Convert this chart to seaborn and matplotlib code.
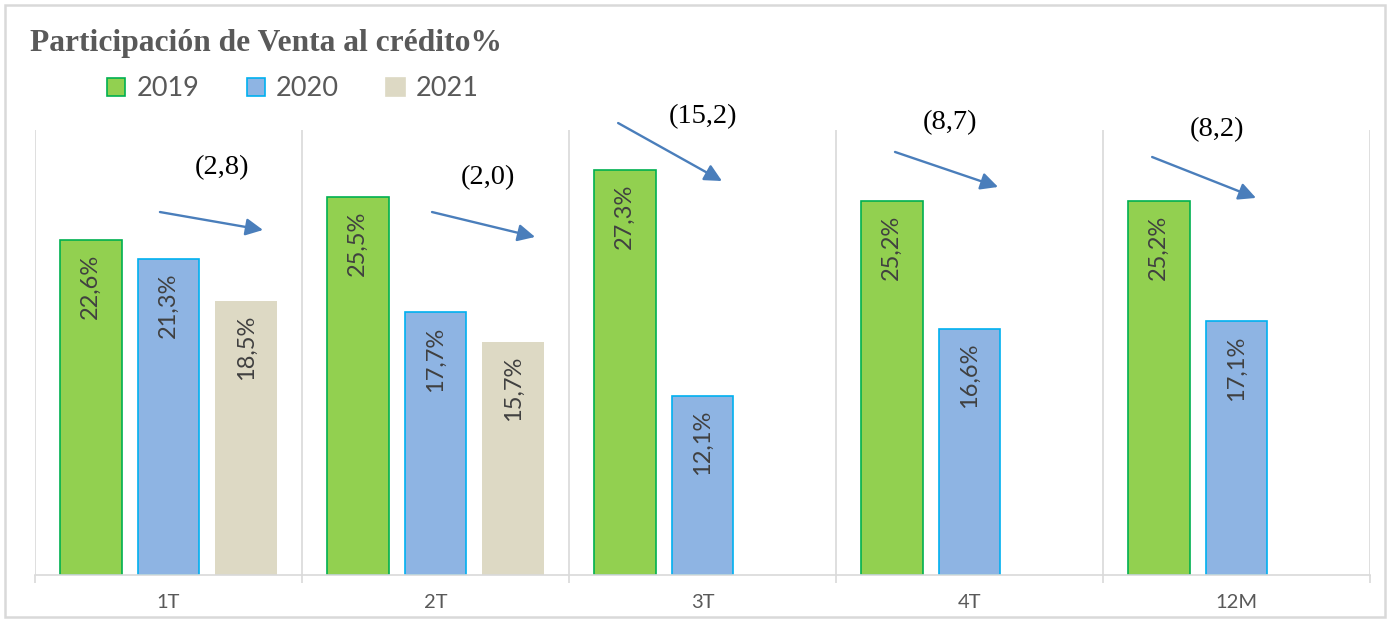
import numpy as np
import pandas as pd
import matplotlib
matplotlib.use("Agg")
import matplotlib.pyplot as plt
from matplotlib.patches import Patch, Rectangle
import seaborn as sns

# ---------------- data ----------------
periods = ["1T", "2T", "3T", "4T", "12M"]
years = ["2019", "2020", "2021"]
values_2019 = [22.6, 25.5, 27.3, 25.2, 25.2]
values_2020 = [21.3, 17.7, 12.1, 16.6, 17.1]
values_2021 = [18.5, 15.7, np.nan, np.nan, np.nan]
change_labels = ["(2,8)", "(2,0)", "(15,2)", "(8,7)", "(8,2)"]
title_text = "Participación de Venta al crédito%"

# ---------------- styling / layout ----------------
fill_colors = {"2019": "#92D050", "2020": "#8EB4E3", "2021": "#DDD9C4"}
edge_colors = {"2019": "#00B050", "2020": "#00B0F0", "2021": "#DDD9C4"}
grid_color = "#D9D9D9"
text_gray = "#595959"
label_gray = "#404040"
arrow_color = "#4A7EBB"

# arrow (start offset, start y, end offset, end y) relative to category index
arrow_geom = [(-0.032, 24.47, 0.354, 23.26),
              (-0.013, 24.47, 0.373, 22.79),
              (-0.316, 30.47, 0.073, 26.56),
              (-0.279, 28.52, 0.107, 26.16),
              (-0.316, 28.18, 0.073, 25.42)]
text_geom = [(0.200, 27.44), (0.197, 26.76), (0.002, 30.88), (-0.073, 30.47), (-0.073, 30.0)]

sns.set_style("white")
plt.rcParams["font.family"] = ["Lato", "DejaVu Sans"]

rows = []
for y, vals in zip(years, [values_2019, values_2020, values_2021]):
    for p, v in zip(periods, vals):
        if not np.isnan(v):
            rows.append({"period": p, "year": y, "value": v})
df = pd.DataFrame(rows)

W, H = 1392, 620
fig = plt.figure(figsize=(W / 100, H / 100), dpi=100)
ax = fig.add_axes([35 / W, 1 - 575 / H, (1370 - 35) / W, (575 - 130) / H])

sns.barplot(data=df, x="period", y="value", hue="year", order=periods,
            hue_order=years, palette=fill_colors, width=0.876, gap=0.205,
            errorbar=None, legend=False, ax=ax, saturation=1)

for cont, yr in zip(ax.containers, years):
    for bar in cont:
        bar.set_edgecolor(edge_colors[yr])
        bar.set_linewidth(1.2 if yr != "2021" else 0.0)
        h = bar.get_height()
        if np.isnan(h):
            continue
        lab = f"{h:.1f}".replace(".", ",") + "%"
        ax.annotate(lab, xy=(bar.get_x() + bar.get_width() / 2, h),
                    xytext=(0, -10), textcoords="offset points",
                    rotation=90, ha="center", va="top",
                    fontsize=17, color=label_gray)

ax.set_xlim(-0.5, len(periods) - 0.5)
ax.set_ylim(0, 30)
ax.set_yticks([])
ax.set_xlabel("")
ax.set_ylabel("")
for s in ["left", "top", "right"]:
    ax.spines[s].set_visible(False)
ax.spines["bottom"].set_color(grid_color)
ax.spines["bottom"].set_linewidth(1.2)

ax.set_xticks(np.arange(len(periods)))
ax.set_xticklabels(periods, fontsize=14.5, color=text_gray)
ax.set_xticks(np.arange(len(periods) + 1) - 0.5, minor=True)
ax.tick_params(axis="x", which="major", length=0, pad=14)
ax.tick_params(axis="x", which="minor", length=6, width=1.2, color=grid_color, bottom=True)
ax.grid(False)
ax.xaxis.grid(True, which="minor", color=grid_color, linewidth=1.2)
ax.set_axisbelow(True)

for i, ((sx, sy, ex, ey), (tx, ty), lab) in enumerate(zip(arrow_geom, text_geom, change_labels)):
    ax.annotate("", xy=(i + ex, ey), xytext=(i + sx, sy), annotation_clip=False,
                arrowprops=dict(arrowstyle="-|>", color=arrow_color, lw=1.7,
                                mutation_scale=26, shrinkA=0, shrinkB=0))
    ax.text(i + tx, ty, lab, ha="center", va="center", fontsize=20.5,
            family=["Liberation Serif", "DejaVu Serif"], color="black", clip_on=False)

fig.text(30 / W, 1 - 51 / H, title_text, ha="left", va="baseline", fontsize=22.7,
         fontweight="bold", color=text_gray, family=["Liberation Serif", "DejaVu Serif"])

handles = [Patch(facecolor=fill_colors[y], edgecolor=edge_colors[y], linewidth=1.2) for y in years]
fig.legend(handles, years, loc="center left", bbox_to_anchor=(107 / W, 1 - 89 / H),
           ncol=3, frameon=False, fontsize=19.5, handlelength=0.68, handleheight=0.68,
           handletextpad=0.4, columnspacing=1.75, borderaxespad=0, borderpad=0,
           labelcolor=text_gray)

fig.patches.append(Rectangle((5 / W, 3 / H), 1380 / W, 612 / H, transform=fig.transFigure,
                             fill=False, edgecolor=grid_color, linewidth=1.8))

fig.savefig("out.png", dpi=100)
